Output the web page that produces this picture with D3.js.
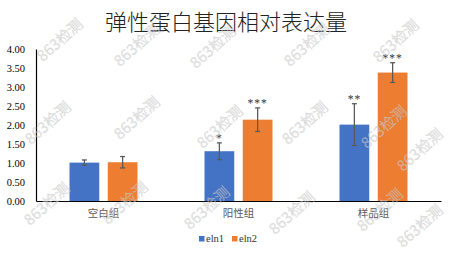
<!DOCTYPE html>
<html>
<head>
<meta charset="utf-8">
<script src="https://cdn.jsdelivr.net/npm/d3@7"></script>
<style>
  body { margin: 0; background: #fff; }
  svg { display: block; }
</style>
</head>
<body>
<svg id="chart" width="454" height="254"></svg>
<script>
// chart data
const categories = ["空白组", "阳性组", "样品组"];
const seriesNames = ["eln1", "eln2"];
const eln1 = [1.01, 1.31, 2.01];
const eln1Err = [0.07, 0.22, 0.55];
const eln2 = [1.02, 2.14, 3.38];
const eln2Err = [0.15, 0.31, 0.26];
const eln1Sig = ["", "*", "**"];
const eln2Sig = ["", "***", "***"];
const yTicks = [0, 0.5, 1, 1.5, 2, 2.5, 3, 3.5, 4];

// watermark spots
const watermarkX = [60, 137, 213, 307, 396, 48, 137, 220, 305, 384, 420, 47, 125, 207, 292, 380, 420];
const watermarkY = [40, 45, 47, 45, 41, 123, 118, 127, 123, 127, 150, 204, 203, 208, 213, 210, 226];

const colors = { eln1: "#4472C4", eln2: "#ED7D31" };
const serif = '"Liberation Serif", "Times New Roman", serif';

const svg = d3.select("#chart");

const x0 = d3.scaleBand().domain(categories).range([36, 441]).padding(0);
const x1 = d3.scaleBand().domain(seriesNames).range([0, x0.bandwidth()])
  .paddingInner(0.222).paddingOuter(0.876);
const y = d3.scaleLinear().domain([0, 4]).range([201, 49]);

const rows = categories.map((c, i) => ({
  cat: c,
  bars: [
    { key: "eln1", value: eln1[i], err: eln1Err[i], sig: eln1Sig[i] },
    { key: "eln2", value: eln2[i], err: eln2Err[i], sig: eln2Sig[i] }
  ]
}));

// title
svg.append("text")
  .attr("x", 226).attr("y", 30)
  .attr("text-anchor", "middle")
  .style("font-family", '"Noto Sans CJK SC", sans-serif')
  .style("font-weight", 300)
  .style("font-size", "22px")
  .attr("fill", "#222")
  .text("弹性蛋白基因相对表达量");

// y axis labels
const yAxis = d3.axisLeft(y).tickValues(yTicks).tickFormat(d3.format(".2f")).tickSize(0).tickPadding(11);
const gy = svg.append("g").attr("transform", "translate(36,0)").call(yAxis);
gy.select(".domain").attr("stroke", "#000").attr("stroke-width", 1.2);
gy.selectAll("text")
  .style("font-family", serif)
  .style("font-size", "10.5px")
  .attr("fill", "#000");

// bars
const groups = svg.append("g").selectAll("g").data(rows).join("g")
  .attr("transform", d => `translate(${x0(d.cat)},0)`);

groups.selectAll("rect").data(d => d.bars).join("rect")
  .attr("x", d => x1(d.key))
  .attr("y", d => y(d.value))
  .attr("width", x1.bandwidth())
  .attr("height", d => y(0) - y(d.value))
  .attr("fill", d => colors[d.key]);

// error bars
const eb = groups.selectAll("g.err").data(d => d.bars).join("g").attr("class", "err")
  .attr("stroke", "#5a5a5a").attr("stroke-width", 1.3);
eb.append("line")
  .attr("x1", d => x1(d.key) + x1.bandwidth() / 2)
  .attr("x2", d => x1(d.key) + x1.bandwidth() / 2)
  .attr("y1", d => y(d.value + d.err))
  .attr("y2", d => y(d.value - d.err));
eb.append("line")
  .attr("x1", d => x1(d.key) + x1.bandwidth() / 2 - 2.5)
  .attr("x2", d => x1(d.key) + x1.bandwidth() / 2 + 2.5)
  .attr("y1", d => y(d.value + d.err))
  .attr("y2", d => y(d.value + d.err));
eb.append("line")
  .attr("x1", d => x1(d.key) + x1.bandwidth() / 2 - 2.5)
  .attr("x2", d => x1(d.key) + x1.bandwidth() / 2 + 2.5)
  .attr("y1", d => y(d.value - d.err))
  .attr("y2", d => y(d.value - d.err));

// significance stars
groups.selectAll("text.sig").data(d => d.bars.filter(b => b.sig)).join("text")
  .attr("class", "sig")
  .attr("x", d => x1(d.key) + x1.bandwidth() / 2)
  .attr("y", d => y(d.value + d.err) - 1)
  .attr("text-anchor", "middle")
  .style("font-family", serif)
  .style("font-size", "11.5px")
  .style("letter-spacing", "1px")
  .attr("fill", "#333")
  .text(d => d.sig);

// x axis
const xAxis = d3.axisBottom(x0).tickSize(0).tickPadding(9);
const gx = svg.append("g").attr("transform", "translate(0,201)").call(xAxis);
gx.select(".domain").attr("stroke", "#000").attr("stroke-width", 1.2);
gx.selectAll("text")
  .style("font-family", '"Noto Sans CJK SC", sans-serif')
  .style("font-size", "10.5px")
  .attr("fill", "#595959");

// legend
const legend = svg.append("g").attr("transform", "translate(199,236)");
const li = legend.selectAll("g").data(seriesNames).join("g")
  .attr("transform", (d, i) => `translate(${i * 33},0)`);
li.append("rect").attr("width", 5.5).attr("height", 5.5).attr("fill", d => colors[d]);
li.append("text")
  .attr("x", 7).attr("y", 6)
  .style("font-family", serif)
  .style("font-size", "10.5px")
  .attr("fill", "#333")
  .text(d => d);

// watermarks
svg.append("g").selectAll("text").data(watermarkX).join("text")
  .attr("transform", (d, i) => `translate(${d},${watermarkY[i]}) rotate(-42)`)
  .attr("text-anchor", "middle")
  .attr("dy", "0.35em")
  .style("font-family", '"Noto Sans CJK SC", sans-serif')
  .style("font-size", "15px")
  .attr("fill", "#d4d4d4")
  .attr("fill-opacity", 0.6)
  .attr("stroke", "#aaa")
  .attr("stroke-opacity", 0.35)
  .attr("stroke-width", 0.4)
  .text("863检测");
</script>
</body>
</html>
